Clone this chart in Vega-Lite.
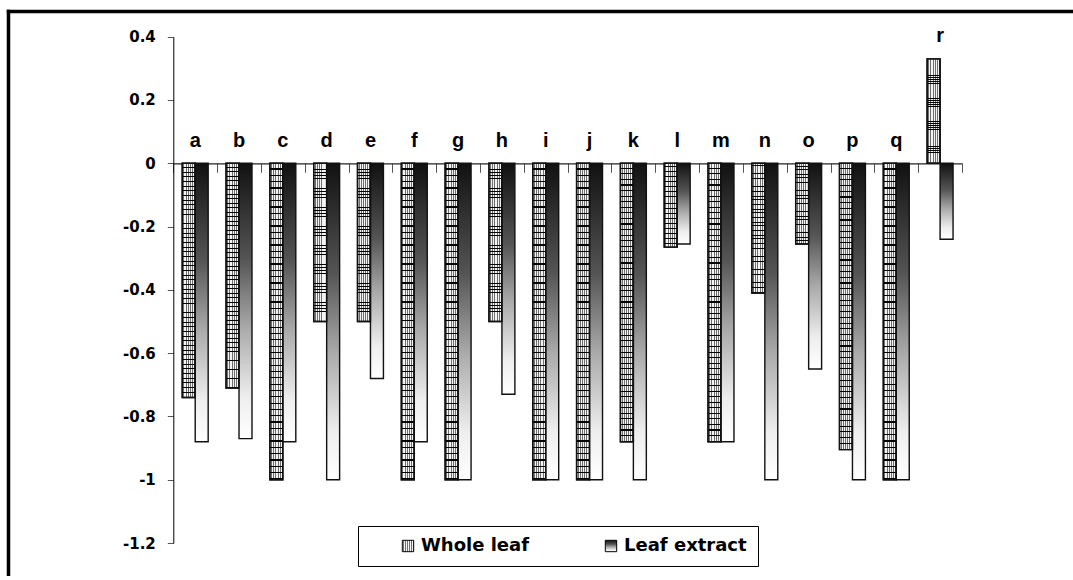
{
"$schema": "https://vega.github.io/schema/vega-lite/v6.json",
"width": 1065, "height": 565,
"autosize": {"type": "none"},
"padding": {"left": 8, "top": 11, "right": 0, "bottom": 0},
"background": "#ffffff",
"config": {"view": {"stroke": null}},
"data": {"values": [
{"cat":"a","series":"Whole leaf","value":-0.74},{"cat":"a","series":"Leaf extract","value":-0.88},
{"cat":"b","series":"Whole leaf","value":-0.71},{"cat":"b","series":"Leaf extract","value":-0.87},
{"cat":"c","series":"Whole leaf","value":-1.0},{"cat":"c","series":"Leaf extract","value":-0.88},
{"cat":"d","series":"Whole leaf","value":-0.5},{"cat":"d","series":"Leaf extract","value":-1.0},
{"cat":"e","series":"Whole leaf","value":-0.5},{"cat":"e","series":"Leaf extract","value":-0.68},
{"cat":"f","series":"Whole leaf","value":-1.0},{"cat":"f","series":"Leaf extract","value":-0.88},
{"cat":"g","series":"Whole leaf","value":-1.0},{"cat":"g","series":"Leaf extract","value":-1.0},
{"cat":"h","series":"Whole leaf","value":-0.5},{"cat":"h","series":"Leaf extract","value":-0.73},
{"cat":"i","series":"Whole leaf","value":-1.0},{"cat":"i","series":"Leaf extract","value":-1.0},
{"cat":"j","series":"Whole leaf","value":-1.0},{"cat":"j","series":"Leaf extract","value":-1.0},
{"cat":"k","series":"Whole leaf","value":-0.88},{"cat":"k","series":"Leaf extract","value":-1.0},
{"cat":"l","series":"Whole leaf","value":-0.265},{"cat":"l","series":"Leaf extract","value":-0.255},
{"cat":"m","series":"Whole leaf","value":-0.88},{"cat":"m","series":"Leaf extract","value":-0.88},
{"cat":"n","series":"Whole leaf","value":-0.41},{"cat":"n","series":"Leaf extract","value":-1.0},
{"cat":"o","series":"Whole leaf","value":-0.255},{"cat":"o","series":"Leaf extract","value":-0.65},
{"cat":"p","series":"Whole leaf","value":-0.905},{"cat":"p","series":"Leaf extract","value":-1.0},
{"cat":"q","series":"Whole leaf","value":-1.0},{"cat":"q","series":"Leaf extract","value":-1.0},
{"cat":"r","series":"Whole leaf","value":0.33},{"cat":"r","series":"Leaf extract","value":-0.24}
]},
"resolve": {"scale": {"x": "independent", "y": "independent"}, "axis": {"x": "independent", "y": "independent"}},
"layer": [
 {
  "encoding": {
    "x": {"field": "cat", "type": "nominal", "sort": null,
      "scale": {"range": [165.3, 954], "paddingInner": 0, "paddingOuter": 0},
      "axis": {"orient": "bottom", "offset": -412.7, "title": null, "labels": false, "tickBand": "extent", "tickSize": 9, "tickColor": "#555555", "tickWidth": 1, "domainColor": "#222222", "domainWidth": 1.2}},
    "y": {"field": "value", "type": "quantitative", "stack": null,
      "scale": {"domain": [-1.2, 0.4], "range": [532, 25.7], "nice": false, "zero": false},
      "axis": {"orient": "left", "offset": -165.3, "title": null, "values": [0.4, 0.2, 0, -0.2, -0.4, -0.6, -0.8, -1, -1.2], "labelExpr": "replace(format(datum.value, '~g'), '\u2212', '-')", "grid": false, "tickSize": 6, "tickColor": "#555555", "domainColor": "#000000", "domainWidth": 1, "labelPadding": 12, "labelFont": "DejaVu Sans", "labelFontWeight": "bold", "labelFontSize": 15, "labelColor": "#000000"}}
  },
  "layer": [
   {"mark": {"type": "bar", "stroke": "#111111", "strokeWidth": 1.4},
    "encoding": {
      "xOffset": {"field": "series", "sort": ["Whole leaf", "Leaf extract"], "scale": {"paddingInner": 0, "paddingOuter": 0.69}},
      "fill": {"field": "series", "type": "nominal", "sort": ["Whole leaf", "Leaf extract"],
        "scale": {"domain": ["Whole leaf", "Leaf extract"], "range": [
          {"expr": "{gradient:'linear',x1:0,y1:0,x2:1,y2:0,stops:[{offset:0,color:'#f4f4f4'},{offset:0.09,color:'#f4f4f4'},{offset:0.09,color:'#6e6e6e'},{offset:0.1667,color:'#6e6e6e'},{offset:0.1667,color:'#f4f4f4'},{offset:0.2567,color:'#f4f4f4'},{offset:0.2567,color:'#6e6e6e'},{offset:0.3333,color:'#6e6e6e'},{offset:0.3333,color:'#f4f4f4'},{offset:0.4233,color:'#f4f4f4'},{offset:0.4233,color:'#6e6e6e'},{offset:0.5,color:'#6e6e6e'},{offset:0.5,color:'#f4f4f4'},{offset:0.59,color:'#f4f4f4'},{offset:0.59,color:'#6e6e6e'},{offset:0.6667,color:'#6e6e6e'},{offset:0.6667,color:'#f4f4f4'},{offset:0.7567,color:'#f4f4f4'},{offset:0.7567,color:'#6e6e6e'},{offset:0.8333,color:'#6e6e6e'},{offset:0.8333,color:'#f4f4f4'},{offset:0.9233,color:'#f4f4f4'},{offset:0.9233,color:'#6e6e6e'},{offset:1,color:'#6e6e6e'}]}"},
          {"expr": "{gradient:'linear',x1:0,y1:0,x2:0,y2:1,stops:[{offset:0,color:'#111111'},{offset:0.35,color:'#555555'},{offset:0.6,color:'#aaaaaa'},{offset:0.85,color:'#eeeeee'},{offset:1,color:'#ffffff'}]}"}
        ]},
        "legend": {"orient": "none", "legendX": 350, "legendY": 515, "direction": "horizontal", "title": null,
          "strokeColor": "#000000", "fillColor": "#ffffff", "padding": 11,
          "symbolType": "square", "symbolSize": 130, "symbolStrokeColor": "#000000", "symbolStrokeWidth": 1,
          "labelFont": "DejaVu Sans", "labelFontWeight": "bold", "labelFontSize": 18, "labelColor": "#000000",
          "labelOffset": 4, "columnPadding": 42, "symbolOffset": 30}}
    }},
   {"transform": [{"filter": "datum.series === 'Whole leaf'"}],
    "mark": {"type": "bar", "stroke": "#111111", "strokeWidth": 1.4, "fill": {"gradient": "linear", "x1": 0, "y1": 0, "x2": 0, "y2": 1, "stops": [
{"offset":0,"color":"rgba(0,0,0,0)"},{"offset":0.016,"color":"rgba(0,0,0,0)"},{"offset":0.016,"color":"#000"},{"offset":0.02,"color":"#000"},
{"offset":0.02,"color":"rgba(0,0,0,0)"},{"offset":0.036,"color":"rgba(0,0,0,0)"},{"offset":0.036,"color":"#000"},{"offset":0.04,"color":"#000"},
{"offset":0.04,"color":"rgba(0,0,0,0)"},{"offset":0.056,"color":"rgba(0,0,0,0)"},{"offset":0.056,"color":"#000"},{"offset":0.06,"color":"#000"},
{"offset":0.06,"color":"rgba(0,0,0,0)"},{"offset":0.076,"color":"rgba(0,0,0,0)"},{"offset":0.076,"color":"#000"},{"offset":0.08,"color":"#000"},
{"offset":0.08,"color":"rgba(0,0,0,0)"},{"offset":0.096,"color":"rgba(0,0,0,0)"},{"offset":0.096,"color":"#000"},{"offset":0.1,"color":"#000"},
{"offset":0.1,"color":"rgba(0,0,0,0)"},{"offset":0.116,"color":"rgba(0,0,0,0)"},{"offset":0.116,"color":"#000"},{"offset":0.12,"color":"#000"},
{"offset":0.12,"color":"rgba(0,0,0,0)"},{"offset":0.136,"color":"rgba(0,0,0,0)"},{"offset":0.136,"color":"#000"},{"offset":0.14,"color":"#000"},
{"offset":0.14,"color":"rgba(0,0,0,0)"},{"offset":0.156,"color":"rgba(0,0,0,0)"},{"offset":0.156,"color":"#000"},{"offset":0.16,"color":"#000"},
{"offset":0.16,"color":"rgba(0,0,0,0)"},{"offset":0.176,"color":"rgba(0,0,0,0)"},{"offset":0.176,"color":"#000"},{"offset":0.18,"color":"#000"},
{"offset":0.18,"color":"rgba(0,0,0,0)"},{"offset":0.196,"color":"rgba(0,0,0,0)"},{"offset":0.196,"color":"#000"},{"offset":0.2,"color":"#000"},
{"offset":0.2,"color":"rgba(0,0,0,0)"},{"offset":0.216,"color":"rgba(0,0,0,0)"},{"offset":0.216,"color":"#000"},{"offset":0.22,"color":"#000"},
{"offset":0.22,"color":"rgba(0,0,0,0)"},{"offset":0.236,"color":"rgba(0,0,0,0)"},{"offset":0.236,"color":"#000"},{"offset":0.24,"color":"#000"},
{"offset":0.24,"color":"rgba(0,0,0,0)"},{"offset":0.256,"color":"rgba(0,0,0,0)"},{"offset":0.256,"color":"#000"},{"offset":0.26,"color":"#000"},
{"offset":0.26,"color":"rgba(0,0,0,0)"},{"offset":0.276,"color":"rgba(0,0,0,0)"},{"offset":0.276,"color":"#000"},{"offset":0.28,"color":"#000"},
{"offset":0.28,"color":"rgba(0,0,0,0)"},{"offset":0.296,"color":"rgba(0,0,0,0)"},{"offset":0.296,"color":"#000"},{"offset":0.3,"color":"#000"},
{"offset":0.3,"color":"rgba(0,0,0,0)"},{"offset":0.316,"color":"rgba(0,0,0,0)"},{"offset":0.316,"color":"#000"},{"offset":0.32,"color":"#000"},
{"offset":0.32,"color":"rgba(0,0,0,0)"},{"offset":0.336,"color":"rgba(0,0,0,0)"},{"offset":0.336,"color":"#000"},{"offset":0.34,"color":"#000"},
{"offset":0.34,"color":"rgba(0,0,0,0)"},{"offset":0.356,"color":"rgba(0,0,0,0)"},{"offset":0.356,"color":"#000"},{"offset":0.36,"color":"#000"},
{"offset":0.36,"color":"rgba(0,0,0,0)"},{"offset":0.376,"color":"rgba(0,0,0,0)"},{"offset":0.376,"color":"#000"},{"offset":0.38,"color":"#000"},
{"offset":0.38,"color":"rgba(0,0,0,0)"},{"offset":0.396,"color":"rgba(0,0,0,0)"},{"offset":0.396,"color":"#000"},{"offset":0.4,"color":"#000"},
{"offset":0.4,"color":"rgba(0,0,0,0)"},{"offset":0.416,"color":"rgba(0,0,0,0)"},{"offset":0.416,"color":"#000"},{"offset":0.42,"color":"#000"},
{"offset":0.42,"color":"rgba(0,0,0,0)"},{"offset":0.436,"color":"rgba(0,0,0,0)"},{"offset":0.436,"color":"#000"},{"offset":0.44,"color":"#000"},
{"offset":0.44,"color":"rgba(0,0,0,0)"},{"offset":0.456,"color":"rgba(0,0,0,0)"},{"offset":0.456,"color":"#000"},{"offset":0.46,"color":"#000"},
{"offset":0.46,"color":"rgba(0,0,0,0)"},{"offset":0.476,"color":"rgba(0,0,0,0)"},{"offset":0.476,"color":"#000"},{"offset":0.48,"color":"#000"},
{"offset":0.48,"color":"rgba(0,0,0,0)"},{"offset":0.496,"color":"rgba(0,0,0,0)"},{"offset":0.496,"color":"#000"},{"offset":0.5,"color":"#000"},
{"offset":0.5,"color":"rgba(0,0,0,0)"},{"offset":0.516,"color":"rgba(0,0,0,0)"},{"offset":0.516,"color":"#000"},{"offset":0.52,"color":"#000"},
{"offset":0.52,"color":"rgba(0,0,0,0)"},{"offset":0.536,"color":"rgba(0,0,0,0)"},{"offset":0.536,"color":"#000"},{"offset":0.54,"color":"#000"},
{"offset":0.54,"color":"rgba(0,0,0,0)"},{"offset":0.556,"color":"rgba(0,0,0,0)"},{"offset":0.556,"color":"#000"},{"offset":0.56,"color":"#000"},
{"offset":0.56,"color":"rgba(0,0,0,0)"},{"offset":0.576,"color":"rgba(0,0,0,0)"},{"offset":0.576,"color":"#000"},{"offset":0.58,"color":"#000"},
{"offset":0.58,"color":"rgba(0,0,0,0)"},{"offset":0.596,"color":"rgba(0,0,0,0)"},{"offset":0.596,"color":"#000"},{"offset":0.6,"color":"#000"},
{"offset":0.6,"color":"rgba(0,0,0,0)"},{"offset":0.616,"color":"rgba(0,0,0,0)"},{"offset":0.616,"color":"#000"},{"offset":0.62,"color":"#000"},
{"offset":0.62,"color":"rgba(0,0,0,0)"},{"offset":0.636,"color":"rgba(0,0,0,0)"},{"offset":0.636,"color":"#000"},{"offset":0.64,"color":"#000"},
{"offset":0.64,"color":"rgba(0,0,0,0)"},{"offset":0.656,"color":"rgba(0,0,0,0)"},{"offset":0.656,"color":"#000"},{"offset":0.66,"color":"#000"},
{"offset":0.66,"color":"rgba(0,0,0,0)"},{"offset":0.676,"color":"rgba(0,0,0,0)"},{"offset":0.676,"color":"#000"},{"offset":0.68,"color":"#000"},
{"offset":0.68,"color":"rgba(0,0,0,0)"},{"offset":0.696,"color":"rgba(0,0,0,0)"},{"offset":0.696,"color":"#000"},{"offset":0.7,"color":"#000"},
{"offset":0.7,"color":"rgba(0,0,0,0)"},{"offset":0.716,"color":"rgba(0,0,0,0)"},{"offset":0.716,"color":"#000"},{"offset":0.72,"color":"#000"},
{"offset":0.72,"color":"rgba(0,0,0,0)"},{"offset":0.736,"color":"rgba(0,0,0,0)"},{"offset":0.736,"color":"#000"},{"offset":0.74,"color":"#000"},
{"offset":0.74,"color":"rgba(0,0,0,0)"},{"offset":0.756,"color":"rgba(0,0,0,0)"},{"offset":0.756,"color":"#000"},{"offset":0.76,"color":"#000"},
{"offset":0.76,"color":"rgba(0,0,0,0)"},{"offset":0.776,"color":"rgba(0,0,0,0)"},{"offset":0.776,"color":"#000"},{"offset":0.78,"color":"#000"},
{"offset":0.78,"color":"rgba(0,0,0,0)"},{"offset":0.796,"color":"rgba(0,0,0,0)"},{"offset":0.796,"color":"#000"},{"offset":0.8,"color":"#000"},
{"offset":0.8,"color":"rgba(0,0,0,0)"},{"offset":0.816,"color":"rgba(0,0,0,0)"},{"offset":0.816,"color":"#000"},{"offset":0.82,"color":"#000"},
{"offset":0.82,"color":"rgba(0,0,0,0)"},{"offset":0.836,"color":"rgba(0,0,0,0)"},{"offset":0.836,"color":"#000"},{"offset":0.84,"color":"#000"},
{"offset":0.84,"color":"rgba(0,0,0,0)"},{"offset":0.856,"color":"rgba(0,0,0,0)"},{"offset":0.856,"color":"#000"},{"offset":0.86,"color":"#000"},
{"offset":0.86,"color":"rgba(0,0,0,0)"},{"offset":0.876,"color":"rgba(0,0,0,0)"},{"offset":0.876,"color":"#000"},{"offset":0.88,"color":"#000"},
{"offset":0.88,"color":"rgba(0,0,0,0)"},{"offset":0.896,"color":"rgba(0,0,0,0)"},{"offset":0.896,"color":"#000"},{"offset":0.9,"color":"#000"},
{"offset":0.9,"color":"rgba(0,0,0,0)"},{"offset":0.916,"color":"rgba(0,0,0,0)"},{"offset":0.916,"color":"#000"},{"offset":0.92,"color":"#000"},
{"offset":0.92,"color":"rgba(0,0,0,0)"},{"offset":0.936,"color":"rgba(0,0,0,0)"},{"offset":0.936,"color":"#000"},{"offset":0.94,"color":"#000"},
{"offset":0.94,"color":"rgba(0,0,0,0)"},{"offset":0.956,"color":"rgba(0,0,0,0)"},{"offset":0.956,"color":"#000"},{"offset":0.96,"color":"#000"},
{"offset":0.96,"color":"rgba(0,0,0,0)"},{"offset":0.976,"color":"rgba(0,0,0,0)"},{"offset":0.976,"color":"#000"},{"offset":0.98,"color":"#000"},
{"offset":0.98,"color":"rgba(0,0,0,0)"},{"offset":0.996,"color":"rgba(0,0,0,0)"},{"offset":0.996,"color":"#000"},{"offset":1,"color":"#000"}
    ]}},
    "encoding": {
      "xOffset": {"field": "series", "sort": ["Whole leaf", "Leaf extract"], "scale": {"paddingInner": 0, "paddingOuter": 0.69}}
    }},
   {"transform": [{"filter": "datum.series === 'Whole leaf' && datum.value <= 0"}],
    "mark": {"type": "text", "dy": -16.6, "baseline": "alphabetic", "align": "center", "font": "Liberation Sans", "fontWeight": "bold", "fontSize": 20, "color": "#000000"},
    "encoding": {"y": {"datum": 0}, "text": {"field": "cat"}}},
   {"transform": [{"filter": "datum.series === 'Whole leaf' && datum.value > 0"}],
    "mark": {"type": "text", "dy": -16.6, "baseline": "alphabetic", "align": "center", "font": "Liberation Sans", "fontWeight": "bold", "fontSize": 20, "color": "#000000"},
    "encoding": {"text": {"field": "cat"}}}
  ]
 },
 {
  "mark": {"type": "point", "opacity": 0},
  "encoding": {
    "x": {"field": "cat", "type": "nominal", "sort": null,
      "axis": {"orient": "top", "offset": 0, "title": null, "labels": false, "ticks": false, "domainColor": "#000000", "domainWidth": 3.5, "domainCap": "square"}},
    "y": {"field": "value", "type": "quantitative",
      "axis": {"orient": "left", "offset": 0, "title": null, "labels": false, "ticks": false, "grid": false, "domainColor": "#000000", "domainWidth": 3.5, "domainCap": "square"}}
  }
 }
]
}
